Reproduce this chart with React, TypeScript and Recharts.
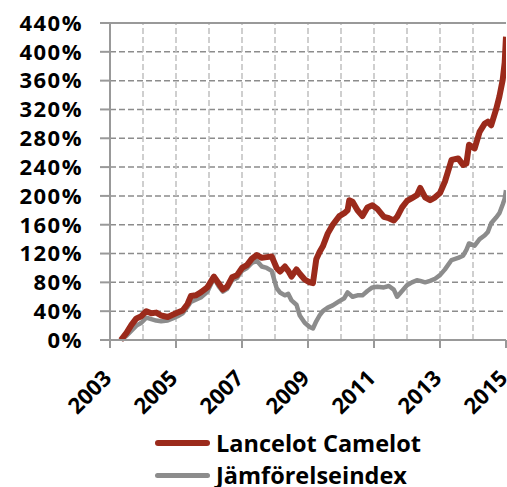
import { LineChart, Line, XAxis, YAxis, CartesianGrid, ReferenceLine, Legend } from 'recharts'

// time in decimal years, values in % return since start
const dates = [
  2003.33, 2003.5, 2003.65, 2003.8, 2003.95, 2004.1, 2004.25, 2004.4, 2004.55, 2004.75,
  2004.9, 2005.05, 2005.2, 2005.35, 2005.45, 2005.6, 2005.75, 2005.95, 2006.15, 2006.3,
  2006.42, 2006.55, 2006.7, 2006.85, 2007.0, 2007.15, 2007.3, 2007.45, 2007.6, 2007.75,
  2007.9, 2008.05, 2008.15, 2008.3, 2008.4, 2008.5, 2008.65, 2008.75, 2008.9, 2009.05,
  2009.15, 2009.25, 2009.35, 2009.45, 2009.6, 2009.75, 2009.95, 2010.1, 2010.2, 2010.25,
  2010.35, 2010.5, 2010.65, 2010.8, 2010.95, 2011.1, 2011.3, 2011.45, 2011.6, 2011.7,
  2011.85, 2012.0, 2012.15, 2012.3, 2012.4, 2012.55, 2012.7, 2012.85, 2013.0, 2013.15,
  2013.35, 2013.55, 2013.7, 2013.8, 2013.88, 2014.05, 2014.2, 2014.35, 2014.45, 2014.55,
  2014.7, 2014.8, 2014.9, 2014.96, 2015.0,
]

const lancelot = [
  0, 10, 21, 30, 33, 40, 37, 38, 34, 32,
  35, 38, 41, 50, 61, 62, 66, 73, 88, 78,
  70, 74, 87, 90, 100, 104, 113, 118, 114, 115,
  116, 100, 95, 102, 96, 88, 98, 92, 84, 80,
  79, 112, 122, 130, 148, 160, 172, 176, 180, 194,
  192, 180, 172, 184, 187, 182, 171, 169, 166, 171,
  184, 193, 197, 201, 211, 198, 194, 198, 204, 220,
  250, 252, 243, 245, 271, 266, 289, 300, 303, 298,
  320, 338, 361, 385, 421,
]

const index = [
  0, 6, 13, 20, 24, 31, 29, 27, 26, 27,
  30, 33, 37, 46, 53, 56, 59, 67, 86, 74,
  67, 71, 83, 86, 96, 100, 107, 110, 102, 100,
  96, 72, 66, 62, 64, 55, 49, 34, 24, 18,
  16, 26, 34, 40, 45, 48, 54, 58, 66, 64,
  60, 62, 62, 68, 73, 74, 73, 75, 70, 60,
  68, 76, 80, 83, 82, 80, 82, 85, 90, 98,
  111, 114, 117, 125, 134, 131, 140, 145, 150, 162,
  170, 176, 188, 196, 208,
]

const xTicks = [2003, 2005, 2007, 2009, 2011, 2013, 2015]
const gridYears = [2004, 2005, 2006, 2007, 2008, 2009, 2010, 2011, 2012, 2013, 2014]
const yTicks = [0, 40, 80, 120, 160, 200, 240, 280, 320, 360, 400, 440]

const seriesNames = ['Lancelot Camelot', 'Jämförelseindex']
const seriesColors = ['#9b2a1b', '#8c8c8c']

const data = dates.map((t, i) => ({ t, lancelot: lancelot[i], index: index[i] }))

const FONT = '"Open Sans", sans-serif'

const XTick = ({ x, y, payload }: any) => (
  <text
    x={x}
    y={y}
    transform={`rotate(-45 ${x} ${y})`}
    textAnchor="end"
    dx={-19}
    dy={23}
    fontFamily={FONT}
    fontWeight={700}
    fontSize={22}
    fill="#000"
  >
    {payload.value}
  </text>
)

const LegendContent = () => (
  <div style={{ fontFamily: FONT, fontWeight: 700, fontSize: 23.5, color: '#000', lineHeight: '31px' }}>
    {seriesNames.map((name, i) => (
      <div key={name} style={{ display: 'flex', alignItems: 'center', height: 32 }}>
        <div
          style={{
            width: 55,
            height: i === 0 ? 6 : 5,
            borderRadius: 3,
            background: seriesColors[i],
            marginRight: 6,
          }}
        />
        <span>{name}</span>
      </div>
    ))}
  </div>
)

export default function App() {
  return (
    <div style={{ position: 'absolute', left: 0, top: 0, background: '#fff' }}>
      <LineChart width={507} height={487} data={data} margin={{ top: 23, right: 1, left: 0, bottom: 0 }}>
        <CartesianGrid vertical={false} stroke="#8c8c8c" strokeWidth={1.5} strokeDasharray="6 3" />
        {gridYears.map((yr) => (
          <ReferenceLine key={yr} x={yr} stroke="#c0c0c0" strokeWidth={1.5} strokeDasharray="6 3" />
        ))}
        <ReferenceLine y={440} stroke="#999" strokeWidth={2} />
        <XAxis
          dataKey="t"
          type="number"
          domain={[2003, 2015]}
          ticks={xTicks}
          interval={0}
          allowDataOverflow
          height={147}
          stroke="#999"
          strokeWidth={2}
          tickSize={8}
          tick={<XTick />}
        />
        <YAxis
          domain={[0, 440]}
          ticks={yTicks}
          interval={0}
          width={110}
          stroke="#999"
          strokeWidth={2}
          tickSize={10}
          tickMargin={17}
          tickFormatter={(v) => `${v}%`}
          tick={{ fontFamily: FONT, fontWeight: 700, fontSize: 22, fill: '#000', letterSpacing: 1.5 } as any}
        />
        <Legend
          layout="vertical"
          verticalAlign="middle"
          align="center"
          content={<LegendContent />}
          wrapperStyle={{ top: 427, left: 155, width: 'auto' }}
        />
        <Line
          dataKey="index"
          stroke={seriesColors[1]}
          strokeWidth={4.5}
          dot={false}
          strokeLinejoin="round"
          isAnimationActive={false}
        />
        <Line
          dataKey="lancelot"
          stroke={seriesColors[0]}
          strokeWidth={6}
          dot={false}
          strokeLinejoin="round"
          isAnimationActive={false}
        />
      </LineChart>
    </div>
  )
}
